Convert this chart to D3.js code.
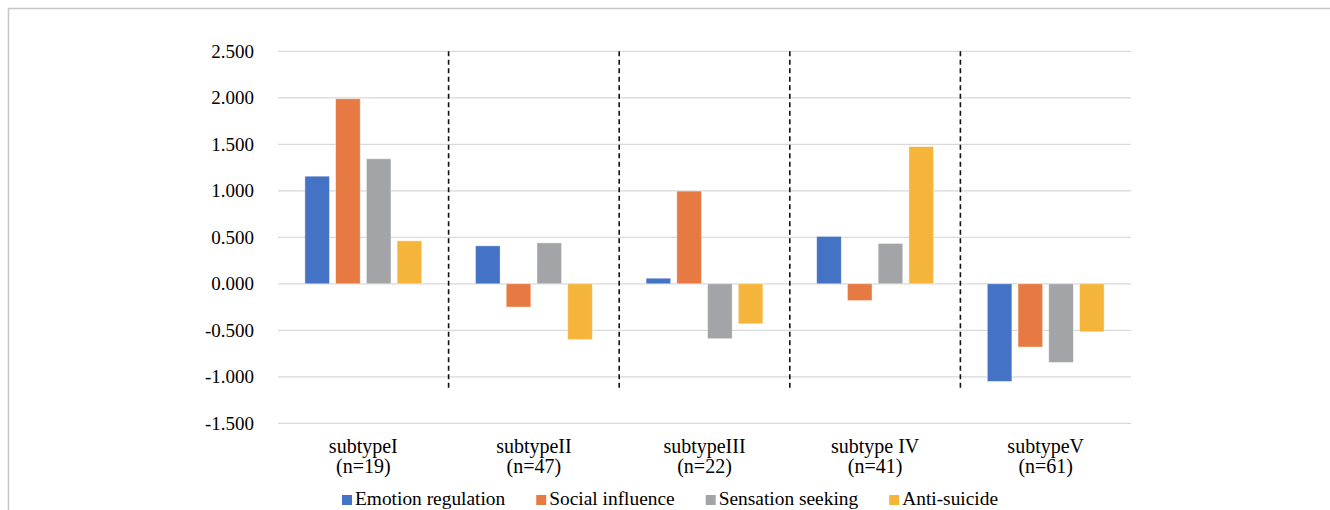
<!DOCTYPE html>
<html>
<head>
<meta charset="utf-8">
<script src="https://cdn.jsdelivr.net/npm/d3@7"></script>
<style>
  html, body { margin: 0; padding: 0; background: #fff; }
  svg { display: block; }
</style>
</head>
<body>
<svg id="chart" width="1330" height="510"></svg>
<script>
// données
const categories = ["subtypeI", "subtypeII", "subtypeIII", "subtype IV", "subtypeV"];
const sizes = ["(n=19)", "(n=47)", "(n=22)", "(n=41)", "(n=61)"];
const series = ["Emotion regulation", "Social influence", "Sensation seeking", "Anti-suicide"];
const emotion = [1.157, 0.408, 0.060, 0.510, -1.050];
const social = [1.990, -0.250, 0.997, -0.180, -0.680];
const sensation = [1.344, 0.440, -0.590, 0.434, -0.846];
const antiSuicide = [0.462, -0.600, -0.430, 1.475, -0.516];
const yTicks = [-1.5, -1, -0.5, 0, 0.5, 1, 1.5, 2, 2.5];

const values = [emotion, social, sensation, antiSuicide];
const colors = ["#4472C4", "#E67A42", "#A3A4A7", "#F5B43A"];
const font = "'Liberation Serif', 'Times New Roman', serif";

const svg = d3.select("#chart");

// cadre gris (coupé à droite et en bas)
svg.append("path")
    .attr("d", "M8.5,510 V8.5 H1330")
    .attr("fill", "none")
    .attr("stroke", "#c6c6c6")
    .attr("stroke-width", 1.5);

const plotLeft = 278, plotRight = 1131, plotTop = 51.3, plotBottom = 423.3;

const x0 = d3.scaleBand().domain(categories).range([plotLeft, plotRight]).padding(0);
const x1 = d3.scaleBand().domain(series).range([0, x0.bandwidth()])
    .paddingInner(0.2).paddingOuter(0.875);
const y = d3.scaleLinear().domain([-1.5, 2.5]).range([plotBottom, plotTop]);

// grille horizontale
svg.append("g").selectAll("line")
    .data(yTicks).enter().append("line")
    .attr("x1", plotLeft).attr("x2", plotRight)
    .attr("y1", d => y(d)).attr("y2", d => y(d))
    .attr("stroke", "#d9d9d9")
    .attr("stroke-width", 1.2);

// libellés de l'axe Y (tiret simple comme dans l'original)
svg.append("g").selectAll("text")
    .data(yTicks).enter().append("text")
    .attr("x", 254).attr("y", d => y(d))
    .attr("text-anchor", "end")
    .attr("dominant-baseline", "central")
    .style("font-family", font)
    .style("font-size", "19px")
    .style("fill", "#000")
    .text(d => d.toFixed(3));

// barres
const groups = svg.append("g").selectAll("g")
    .data(categories).enter().append("g")
    .attr("transform", c => `translate(${x0(c)},0)`);

groups.selectAll("rect")
    .data((c, ci) => series.map((s, si) => ({ s, si, v: values[si][ci] })))
    .enter().append("rect")
    .attr("x", d => x1(d.s))
    .attr("width", x1.bandwidth())
    .attr("y", d => y(Math.max(0, d.v)))
    .attr("height", d => Math.abs(y(d.v) - y(0)))
    .attr("fill", d => colors[d.si])
    .attr("stroke", "rgba(255,255,255,0.5)")
    .attr("stroke-width", 0.8);

// séparateurs en pointillés entre les sous-types
svg.append("g").selectAll("line")
    .data(categories.slice(1)).enter().append("line")
    .attr("x1", c => x0(c)).attr("x2", c => x0(c))
    .attr("y1", plotTop).attr("y2", 390)
    .attr("stroke", "#111")
    .attr("stroke-width", 1.6)
    .attr("stroke-dasharray", "5,3.5");

// libellés des catégories (deux lignes)
const catLabels = svg.append("g").selectAll("text")
    .data(categories).enter().append("text")
    .attr("text-anchor", "middle")
    .style("font-family", font)
    .style("font-size", "20px")
    .style("fill", "#000");

catLabels.append("tspan")
    .attr("x", c => x0(c) + x0.bandwidth() / 2)
    .attr("y", 453)
    .text(c => c);
catLabels.append("tspan")
    .attr("x", c => x0(c) + x0.bandwidth() / 2)
    .attr("y", 473)
    .text((c, i) => sizes[i]);

// légende : carré + texte, éléments enchaînés selon la largeur du texte
const legend = svg.append("g");
let lx = 342;
series.forEach((s, i) => {
    legend.append("rect")
        .attr("x", lx).attr("y", 495)
        .attr("width", 10).attr("height", 10)
        .attr("fill", colors[i]);
    const t = legend.append("text")
        .attr("x", lx + 13).attr("y", 505)
        .style("font-family", font)
        .style("font-size", "19.4px")
        .style("fill", "#000")
        .text(s);
    lx += 13 + t.node().getComputedTextLength() + 31;
});
</script>
</body>
</html>
